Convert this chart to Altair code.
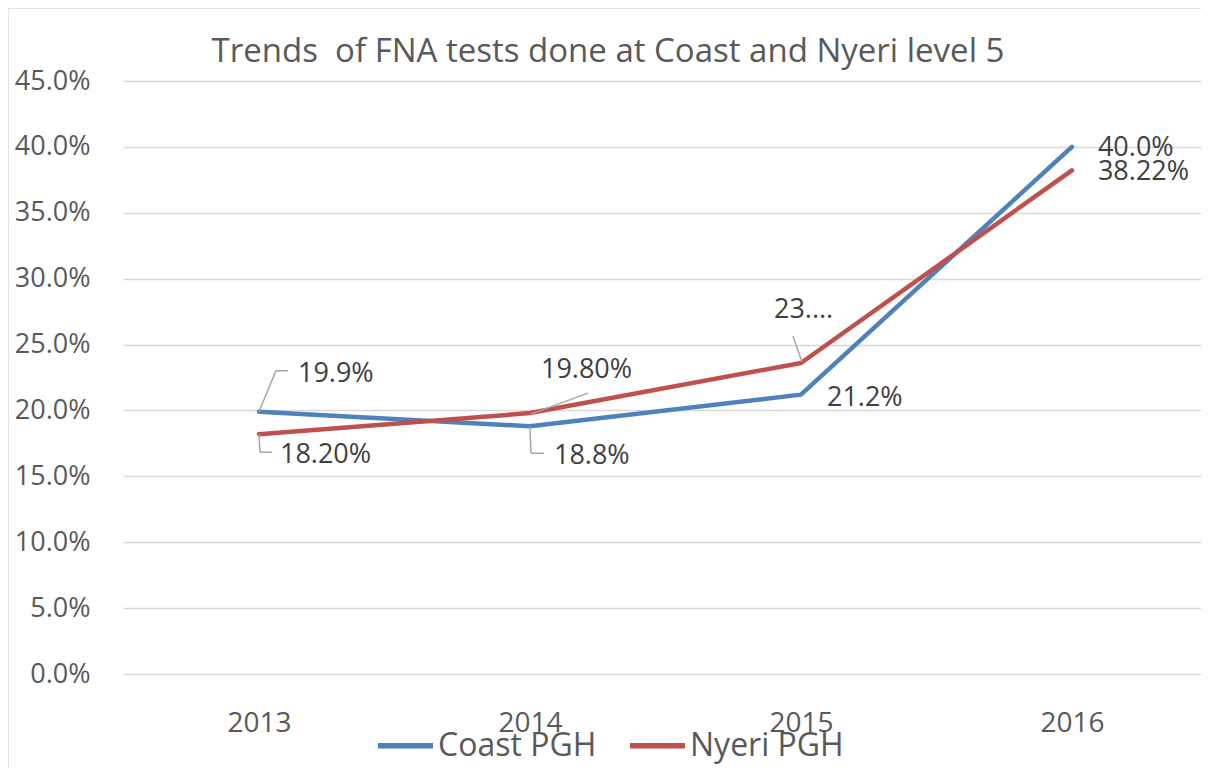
import altair as alt
import pandas as pd

# ---- data ----
years = ["2013", "2014", "2015", "2016"]
series_names = ["Coast PGH", "Nyeri PGH"]
coast = [19.9, 18.8, 21.2, 40.0]
nyeri = [18.2, 19.8, 23.6, 38.22]
coast_labels = ["19.9%", "18.8%", "21.2%", "40.0%"]
nyeri_labels = ["18.20%", "19.80%", "23....", "38.22%"]
y_ticks = [0, 5, 10, 15, 20, 25, 30, 35, 40, 45]
title_text = "Trends  of FNA tests done at Coast and Nyeri level 5"

rows = []
for y, v, l in zip(years, coast, coast_labels):
    rows.append({"year": y, "series": series_names[0], "value": v, "label": l})
for y, v, l in zip(years, nyeri, nyeri_labels):
    rows.append({"year": y, "series": series_names[1], "value": v, "label": l})
df = pd.DataFrame(rows)

W, H = 1078, 593
FONT = "Open Sans"
GRAY = "#595959"
DARK = "#404040"
LEADER = "#A6A6A6"

x_enc = alt.X("year:O", scale=alt.Scale(type="point", padding=0.489, align=0.513, domain=years),
              axis=alt.Axis(title=None, labelAngle=0, labelFontSize=28, labelColor=GRAY,
                            labelFont=FONT, labelPadding=35, ticks=False, domain=False,
                            grid=False))
y_enc = alt.Y("value:Q", scale=alt.Scale(domain=[0, 45], nice=False),
              axis=alt.Axis(title=None, values=y_ticks, labelFontSize=27, labelColor=GRAY,
                            labelFont=FONT, labelPadding=33, ticks=False, domain=False,
                            gridColor="#D9D9D9", gridWidth=1.3,
                            labelExpr="format(datum.value, '.1f') + '%'"))

base = alt.Chart(df)

border = alt.Chart(alt.Data(values=[{}])).mark_rect(
    fillOpacity=0, stroke="#D9D9D9", strokeWidth=1.5
).encode(x=alt.value(-115), x2=alt.value(W + 40), y=alt.value(-73), y2=alt.value(H + 300))

title = alt.Chart(alt.Data(values=[{"t": title_text.replace("  ", " \u00a0")}])).mark_text(
    align="center", baseline="middle", fontSize=33, font=FONT, color=GRAY
).encode(text="t:N", x=alt.value(485), y=alt.value(-29))

lines = base.mark_line(strokeWidth=4.5, strokeCap="round", strokeJoin="round").encode(
    x=x_enc, y=y_enc,
    color=alt.Color("series:N",
                    scale=alt.Scale(domain=series_names, range=["#4F81BD", "#C0504D"]),
                    legend=alt.Legend(title=None, orient="none", legendX=252, legendY=634,
                                      direction="horizontal", symbolType="stroke",
                                      symbolSize=3025, symbolStrokeWidth=5.5,
                                      labelFontSize=32, labelFont=FONT, labelColor=GRAY,
                                      labelOffset=2, columnPadding=22, padding=0)),
)


def pick(series, year):
    return (alt.datum.series == series) & (alt.datum.year == year)


def label(series, year, dx, dy):
    return base.transform_filter(pick(series, year)).mark_text(
        align="left", baseline="middle", dx=dx, dy=dy, fontSize=27, font=FONT, color=DARK
    ).encode(x="year:O", y="value:Q", text="label:N")


def leader(series, year, o1, o2):
    return base.transform_filter(pick(series, year)).mark_rule(
        color=LEADER, strokeWidth=1.5,
        xOffset=o1[0], yOffset=o1[1], x2Offset=o2[0], y2Offset=o2[1]
    ).encode(x="year:O", y="value:Q", x2="year:O", y2="value:Q")


C, N = series_names
leaders = [
    leader(C, "2013", (0, 0), (17, -41)),
    leader(C, "2013", (17, -41), (29, -41)),
    leader(N, "2013", (0, 0), (1, 18)),
    leader(N, "2013", (1, 18), (13, 18)),
    leader(C, "2014", (0, 0), (1, 27)),
    leader(C, "2014", (1, 27), (14, 27)),
    leader(N, "2014", (1, 1), (58, -20)),
    leader(N, "2015", (1, -1), (-8, -27)),
]

labels = [
    label(C, "2013", 39, -38),
    label(C, "2014", 24, 30),
    label(C, "2015", 26, 3),
    label(C, "2016", 26, 1),
    label(N, "2013", 21, 21),
    label(N, "2014", 11, -43),
    label(N, "2015", -27, -53),
    label(N, "2016", 26, 2),
]

chart = alt.layer(border, title, lines, *leaders, *labels).properties(
    width=W, height=H,
    autosize=alt.AutoSizeParams(type="none"),
    padding={"left": 115, "top": 73, "right": 0, "bottom": 94},
).configure_view(stroke=None)

chart.save("out.html", embed_options={"renderer": "svg", "actions": False})
